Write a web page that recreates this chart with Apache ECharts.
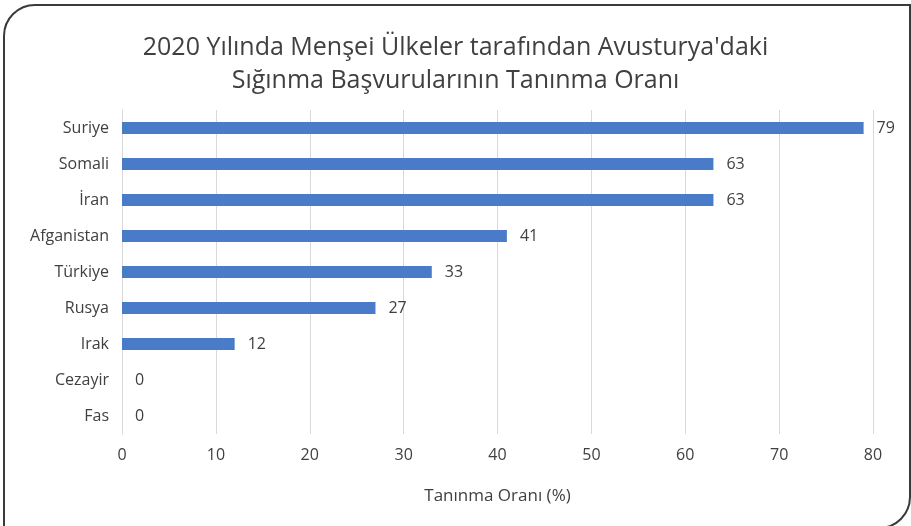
<!DOCTYPE html>
<html>
<head>
<meta charset="utf-8">
<script src="https://cdn.jsdelivr.net/npm/echarts@6/dist/echarts.min.js"></script>
<style>
  html, body { margin: 0; padding: 0; background: #fff; overflow: hidden; width: 911px; height: 526px; }
  #frame {
    position: absolute; left: 3px; top: 4px; width: 904px; height: 521px;
    border: 2px solid #3a3a3a; border-radius: 32px 0 32px 0;
  }
  #chart { position: absolute; left: 0; top: 0; width: 911px; height: 526px; }
</style>
</head>
<body>
<div id="frame"></div>
<div id="chart"></div>
<script>
// ülkeler ve tanınma oranları (%)
var countries = ['Suriye', 'Somali', 'İran', 'Afganistan', 'Türkiye', 'Rusya', 'Irak', 'Cezayir', 'Fas'];
var rates = [79, 63, 63, 41, 33, 27, 12, 0, 0];
var xTicks = [0, 10, 20, 30, 40, 50, 60, 70, 80];

var chart = echarts.init(document.getElementById('chart'));
var font = '"Open Sans", sans-serif';
var option = {
    title: {
        text: "2020 Yılında Menşei Ülkeler tarafından Avusturya'daki\nSığınma Başvurularının Tanınma Oranı",
        left: 'center',
        top: 26,
        textStyle: {
            color: '#404040',
            fontFamily: font,
            fontWeight: 'normal',
            fontSize: 25,
            lineHeight: 33
        }
    },
    grid: {
        left: 122,
        right: 38,
        top: 110,
        bottom: 92
    },
    xAxis: {
        type: 'value',
        min: xTicks[0],
        max: xTicks[xTicks.length - 1],
        interval: 10,
        name: 'Tanınma Oranı (%)',
        nameLocation: 'middle',
        nameGap: 54,
        nameTextStyle: { color: '#404040', fontSize: 17, fontFamily: font },
        axisLine: { show: false },
        axisTick: { show: false },
        axisLabel: { color: '#404040', fontSize: 16, fontFamily: font, margin: 13 },
        splitLine: { lineStyle: { color: '#d9d9d9', width: 1 } }
    },
    yAxis: {
        type: 'category',
        data: countries,
        inverse: true,
        axisLine: { show: true, lineStyle: { color: '#d9d9d9' } },
        axisTick: { show: false },
        axisLabel: { color: '#404040', fontSize: 16, fontFamily: font, margin: 13 }
    },
    series: [{
        type: 'bar',
        data: rates,
        barWidth: 12,
        itemStyle: { color: '#4a7bc8' },
        label: {
            show: true,
            position: 'right',
            distance: 13,
            color: '#404040',
            fontSize: 16,
            fontFamily: font
        }
    }]
};
chart.setOption(option);
</script>
</body>
</html>
